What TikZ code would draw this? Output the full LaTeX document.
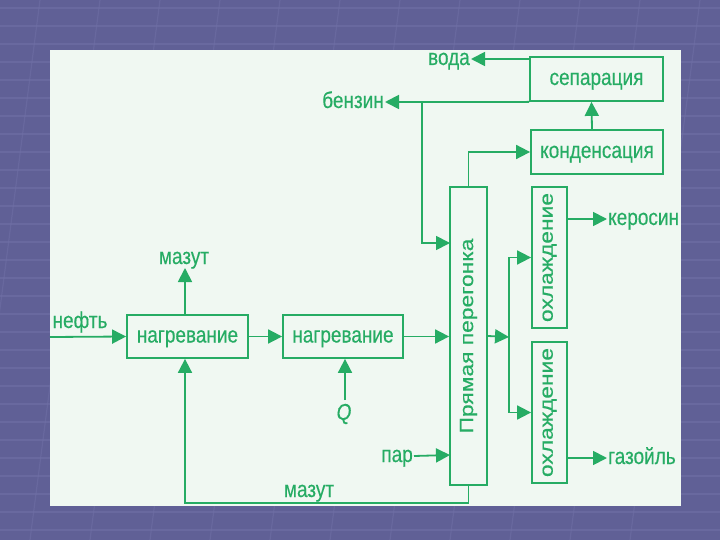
\documentclass[tikz,border=0pt]{standalone}
\usepackage{fontspec}
\setmainfont{Liberation Sans}[FakeBold=0.4]
\usetikzlibrary{arrows.meta}
\definecolor{slidebg}{RGB}{96,96,150}
\definecolor{stripe}{RGB}{112,112,166}
\definecolor{panel}{RGB}{240,248,242}
\definecolor{dgreen}{RGB}{38,172,100}
\newcommand{\vtxt}[1]{\scalebox{1}[1.2]{#1}}
\newcommand{\rtxt}[1]{\rotatebox{90}{\scalebox{1.2}[1]{#1}}}
\tikzset{
  box/.style={draw=dgreen, line width=1.8pt, inner sep=0pt, text=dgreen, font=\fontsize{19}{21}\selectfont},
  hbox/.style={box, text height=12pt, text depth=0pt},
  lbl/.style={inner sep=1pt, text=dgreen, font=\fontsize{19}{21}\selectfont, text height=12pt, text depth=0pt},
  conn/.style={draw=dgreen, line width=1.8pt},
  arr/.style={conn, -{Triangle[length=14pt,width=14pt]}},
}
\begin{document}
\begin{tikzpicture}[x=1pt,y=-1pt]
\useasboundingbox (0,0) rectangle (720,540);
% slide background
\fill[slidebg] (0,0) rectangle (720,540);
\foreach \yy in {8,26,44,62,80,98,116,134,152,170,188,206,224,242,260,278,296,314,332,350,368,386,404,422,440,458,476,494,512,530}
  \draw[stripe, line width=1.2pt, opacity=0.6] (0,\yy) -- (720,\yy);
\foreach \xx in {40,100,160,220,280,340,400,460,520,580,640,700}
  \draw[stripe, line width=1.2pt, opacity=0.5] (\xx,0) -- (\xx-70,540);
% panel
\fill[panel] (50,50) rectangle (681,506);

% boxes
\node[hbox, minimum width=133, minimum height=44] (sep) at (596.5,79) {\vtxt{сепарация}};
\node[hbox, minimum width=132, minimum height=44] (kond) at (597,152) {\vtxt{конденсация}};
\node[box, minimum width=37, minimum height=298] (col) at (468.5,336) {\rtxt{Прямая перегонка}};
\node[box, minimum width=35, minimum height=141] (ohl1) at (549.5,257.5) {\rtxt{охлаждение}};
\node[box, minimum width=35, minimum height=141] (ohl2) at (549.5,412.5) {\rtxt{охлаждение}};
\node[hbox, minimum width=121, minimum height=43] (nag1) at (187.5,336.5) {\vtxt{нагревание}};
\node[hbox, minimum width=120, minimum height=43] (nag2) at (343,336.5) {\vtxt{нагревание}};

% labels
\node[lbl, anchor=east] (voda) at (471,59) {\vtxt{вода}};
\node[lbl, anchor=east] (benzin) at (385,102) {\vtxt{бензин}};
\node[lbl, anchor=west] (kero) at (607,219) {\vtxt{керосин}};
\node[lbl, anchor=west] (gaz) at (607,458) {\vtxt{газойль}};
\node[lbl] (neft) at (80,322) {\vtxt{нефть}};
\node[lbl] (mazut1) at (184,258) {\vtxt{мазут}};
\node[inner sep=1pt, text=dgreen, font=\fontsize{19}{21}\selectfont] (Q) at (344,414) {\vtxt{\itshape Q}};
\node[lbl, anchor=east] (par) at (414,456) {\vtxt{пар}};
\node[lbl] (mazut2) at (309,491) {\vtxt{мазут}};

% coordinates
\coordinate (rj) at (422,102);
\coordinate (rin) at (450,243);
\coordinate (split) at (509,337);
\coordinate (nin) at (50,337);
\coordinate (mtop) at (185,268);
\coordinate (qin) at (345,400);
\coordinate (pin) at (450,455);
\coordinate (mb) at (185,503);
\coordinate (vout) at (530,59);

% connectors
\draw[arr] (vout) -- (voda.east);
\draw[arr] (sep.south west) -- (benzin.east);
\draw[arr] (rj) |- (rin);
\draw[arr] (col.north) |- (kond.west);
\draw[arr] ([xshift=-5pt]kond.north) -- ([xshift=-5pt]sep.south);
\draw[arr] (col.east) -- (split);
\draw[arr] (split) |- (ohl1.west);
\draw[arr] (split) |- (ohl2.west);
\draw[arr] (kero.west -| ohl1.east) -- (kero.west);
\draw[arr] (gaz.west -| ohl2.east) -- (gaz.west);
\draw[arr] (nin) -- (nag1.west);
\draw[arr] (nag1.east) -- (nag2.west);
\draw[arr] (nag2.east) -- (nag2.east -| col.west);
\draw[arr] (nag1.north -| mtop) -- (mtop);
\draw[arr] (qin) -- (qin |- nag2.south);
\draw[arr] (par.east) -- (pin);
\draw[arr] (col.south) |- (mb) -- (mb |- nag1.south);
\end{tikzpicture}
\end{document}
